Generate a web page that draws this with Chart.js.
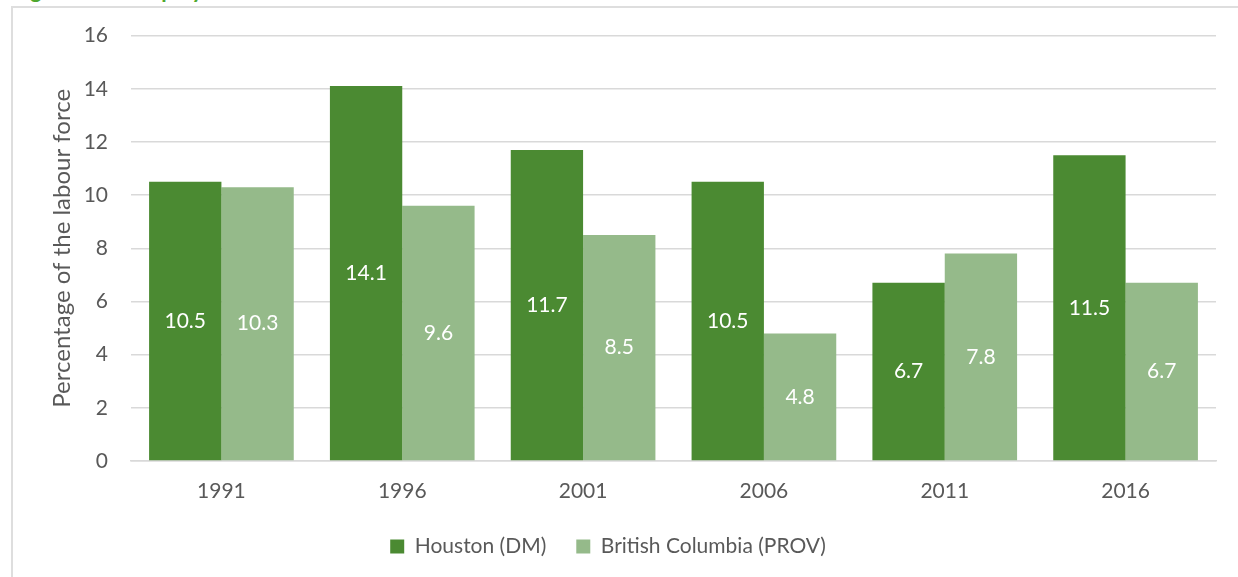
<!DOCTYPE html>
<html>
<head>
<meta charset="utf-8">
<script src="https://cdn.jsdelivr.net/npm/chart.js@4.4.1/dist/chart.umd.min.js"></script>
<style>
  body { margin: 0; background: #fff; overflow: hidden; }
  #wrap { position: relative; width: 1238px; height: 577px; }
  #frame { position: absolute; left: 11px; top: 6px; right: -10px; bottom: -10px;
           border-left: 2px solid #dedede; border-top: 2px solid #dedede; }
  #fig { position: absolute; left: 12px; top: -21px; font: bold 22px Lato, sans-serif;
         line-height: 22px; color: #4ea72e; white-space: nowrap; }
  canvas { position: absolute; left: 0; top: 0; }
</style>
</head>
<body>
<div id="wrap">
  <div id="fig">Figure 6: Unemployment rate</div>
  <div id="frame"></div>
  <canvas id="myChart" width="1238" height="577"></canvas>
</div>
<script>
var years = ['1991', '1996', '2001', '2006', '2011', '2016'];
var houston = [10.5, 14.1, 11.7, 10.5, 6.7, 11.5];
var bc = [10.3, 9.6, 8.5, 4.8, 7.8, 6.7];
var yTicks = [0, 2, 4, 6, 8, 10, 12, 14, 16];

// values written in the middle of each bar
var barLabels = {
  id: 'barLabels',
  afterDatasetsDraw: function(chart) {
    var ctx = chart.ctx;
    ctx.save();
    ctx.font = '21px Lato, sans-serif';
    ctx.fillStyle = '#ffffff';
    ctx.textAlign = 'center';
    ctx.textBaseline = 'middle';
    chart.data.datasets.forEach(function(ds, i) {
      chart.getDatasetMeta(i).data.forEach(function(bar, j) {
        var mid = (bar.y + bar.base) / 2;
        ctx.fillText(ds.data[j].toFixed(1), bar.x, mid);
      });
    });
    ctx.restore();
  }
};

var ctx = document.getElementById("myChart");
var myChart = new Chart(ctx, {
  type: 'bar',
  data: {
    labels: years,
    datasets: [{
      label: 'Houston (DM)',
      data: houston,
      backgroundColor: '#4b8a32',
      borderWidth: 0
    }, {
      label: 'British Columbia (PROV)',
      data: bc,
      backgroundColor: '#95ba8a',
      borderWidth: 0
    }]
  },
  options: {
    responsive: false,
    animation: false,
    layout: { padding: { top: 35, right: 22, left: 0, bottom: 10 } },
    datasets: { bar: { categoryPercentage: 0.8, barPercentage: 1.0 } },
    plugins: {
      legend: {
        position: 'bottom',
        labels: {
          boxWidth: 14, boxHeight: 14, padding: 30,
          color: '#595959',
          font: { family: 'Lato, sans-serif', size: 21 }
        }
      },
      tooltip: { enabled: false }
    },
    scales: {
      x: {
        grid: { display: false },
        border: { color: '#d9d9d9', width: 1.5 },
        ticks: { color: '#595959', padding: 10, font: { family: 'Lato, sans-serif', size: 21 } },
        afterFit: function(scale) { scale.height = 45; }
      },
      y: {
        min: 0, max: 16,
        afterBuildTicks: function(scale) {
          scale.ticks = yTicks.map(function(v) { return { value: v }; });
        },
        grid: { color: '#d9d9d9', lineWidth: 1.5, drawTicks: false },
        border: { display: false },
        ticks: { color: '#595959', padding: 23, font: { family: 'Lato, sans-serif', size: 21 } },
        title: {
          display: true,
          text: 'Percentage of the labour force',
          color: '#595959',
          font: { family: 'Lato, sans-serif', size: 24 },
          padding: { top: 48, bottom: 0 }
        },
        afterFit: function(scale) { scale.width = 131; }
      }
    }
  },
  plugins: [barLabels]
});
</script>
</body>
</html>
